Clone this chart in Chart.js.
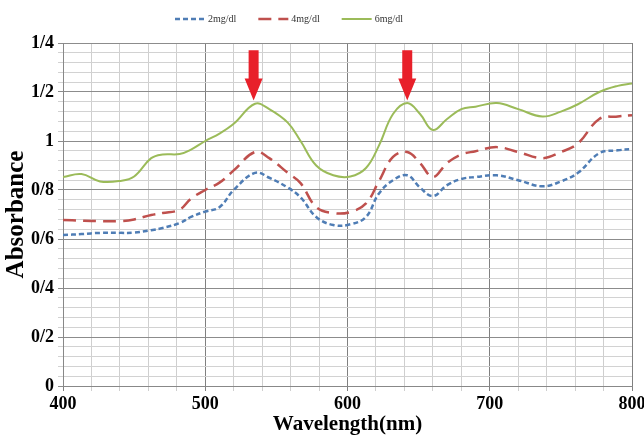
<!DOCTYPE html>
<html>
<head>
<meta charset="utf-8">
<script src="https://cdn.jsdelivr.net/npm/chart.js@4.4.0/dist/chart.umd.min.js"></script>
<style>
  html, body { margin: 0; padding: 0; background: #fff; }
</style>
</head>
<body>
<canvas id="absChart" width="644" height="437"></canvas>
<script>
const wavelengths = [400, 413, 426, 440, 450, 462, 470, 482, 490, 500, 510, 520, 535, 545, 558, 567, 578, 590, 602, 613, 622, 632, 642, 651, 660, 670, 680, 690, 705, 720, 737, 750, 762, 777, 790, 800];
const abs2 = [0.616, 0.62, 0.625, 0.625, 0.626, 0.636, 0.645, 0.665, 0.69, 0.712, 0.73, 0.8, 0.87, 0.85, 0.81, 0.77, 0.69, 0.657, 0.66, 0.69, 0.785, 0.84, 0.86, 0.81, 0.775, 0.82, 0.845, 0.853, 0.86, 0.84, 0.815, 0.835, 0.87, 0.95, 0.962, 0.967];
const abs4 = [0.678, 0.675, 0.673, 0.673, 0.68, 0.698, 0.706, 0.72, 0.765, 0.8, 0.83, 0.88, 0.955, 0.93, 0.87, 0.828, 0.73, 0.706, 0.71, 0.745, 0.835, 0.935, 0.955, 0.91, 0.853, 0.91, 0.945, 0.958, 0.975, 0.955, 0.93, 0.955, 0.99, 1.09, 1.1, 1.105];
const abs6 = [0.853, 0.865, 0.835, 0.837, 0.855, 0.93, 0.945, 0.947, 0.965, 1.0, 1.03, 1.07, 1.152, 1.13, 1.075, 1.0, 0.9, 0.86, 0.855, 0.89, 0.98, 1.11, 1.155, 1.11, 1.045, 1.09, 1.13, 1.14, 1.155, 1.13, 1.1, 1.12, 1.15, 1.2, 1.225, 1.235];
const seriesNames = ['2mg/dl', '4mg/dl', '6mg/dl'];
const yTickLabels = ['0', '0/2', '0/4', '0/6', '0/8', '1', '1/2', '1/4'];
const xTickLabels = ['400', '500', '600', '700', '800'];
const arrowWavelengths = [534, 642];

function toPoints(values) {
  return wavelengths.map((w, i) => ({ x: w, y: values[i] }));
}

// red arrows pointing at the two peaks
const peakArrows = {
  id: 'peakArrows',
  afterDatasetsDraw(chart) {
    const { ctx, scales: { x, y } } = chart;
    ctx.save();
    ctx.fillStyle = '#e8202a';
    arrowWavelengths.forEach(w => {
      const cx = x.getPixelForValue(w);
      const top = y.getPixelForValue(1.37);
      const tip = y.getPixelForValue(1.165);
      const headStart = tip - 22;
      ctx.beginPath();
      ctx.moveTo(cx - 5, top);
      ctx.lineTo(cx + 5, top);
      ctx.lineTo(cx + 5, headStart);
      ctx.lineTo(cx + 9, headStart);
      ctx.lineTo(cx, tip);
      ctx.lineTo(cx - 9, headStart);
      ctx.lineTo(cx - 5, headStart);
      ctx.closePath();
      ctx.fill();
    });
    ctx.restore();
  }
};

// legend row above the plot
const lineLegend = {
  id: 'lineLegend',
  afterDraw(chart) {
    const ctx = chart.ctx;
    ctx.save();
    ctx.font = '10px "Liberation Serif"';
    ctx.textBaseline = 'middle';
    let lx = 175;
    const ly = 19;
    chart.data.datasets.forEach(ds => {
      ctx.strokeStyle = ds.borderColor;
      ctx.lineWidth = ds.borderWidth;
      ctx.setLineDash(ds.borderDash || []);
      ctx.beginPath();
      ctx.moveTo(lx, ly);
      ctx.lineTo(lx + 30, ly);
      ctx.stroke();
      ctx.setLineDash([]);
      ctx.fillStyle = '#333';
      ctx.fillText(ds.label, lx + 33, ly);
      lx += 33 + ctx.measureText(ds.label).width + 22;
    });
    ctx.restore();
  }
};

const ctx = document.getElementById('absChart').getContext('2d');
const absChart = new Chart(ctx, {
  type: 'line',
  data: {
    datasets: [
      {
        label: seriesNames[0],
        data: toPoints(abs2),
        borderColor: '#4f7db5',
        borderWidth: 2.5,
        borderDash: [5, 3],
        pointRadius: 0,
        tension: 0.4
      },
      {
        label: seriesNames[1],
        data: toPoints(abs4),
        borderColor: '#bf504d',
        borderWidth: 2.5,
        borderDash: [13, 7],
        pointRadius: 0,
        tension: 0.4
      },
      {
        label: seriesNames[2],
        data: toPoints(abs6),
        borderColor: '#9bbb59',
        borderWidth: 2,
        pointRadius: 0,
        tension: 0.4
      }
    ]
  },
  options: {
    responsive: false,
    animation: false,
    layout: { padding: { top: 43, right: 12, left: 0, bottom: 0 } },
    plugins: {
      legend: { display: false },
      tooltip: { enabled: false }
    },
    scales: {
      x: {
        type: 'linear',
        min: 400,
        max: 800,
        afterFit: s => { s.height = 51; s.paddingRight = 12; s.paddingLeft = 0; },
        ticks: {
          stepSize: 20,
          autoSkip: false,
          maxRotation: 0,
          padding: 3,
          color: '#000',
          font: { family: 'Liberation Serif', size: 18, weight: 'bold' },
          callback: v => (v % 100 === 0 ? xTickLabels[(v - 400) / 100] : '')
        },
        grid: {
          color: c => (c.tick && c.tick.value % 100 === 0 ? '#808080' : '#cfcfcf'),
          tickLength: 5
        },
        border: { color: '#888' },
        title: {
          display: true,
          text: 'Wavelength(nm)',
          color: '#000',
          font: { family: 'Liberation Serif', size: 21, weight: 'bold' },
          padding: 0
        }
      },
      y: {
        min: 0,
        max: 1.4,
        afterFit: s => { s.width = 63; },
        ticks: {
          stepSize: 0.04,
          maxTicksLimit: 100,
          autoSkip: false,
          padding: 4,
          color: '#000',
          font: { family: 'Liberation Serif', size: 18, weight: 'bold' },
          callback: v => {
            const k = Math.round(v * 100);
            return k % 20 === 0 ? yTickLabels[k / 20] : '';
          }
        },
        grid: {
          color: c => (c.tick && Math.round(c.tick.value * 100) % 20 === 0 ? '#8c8c8c' : '#d2d2d2'),
          tickLength: 5
        },
        border: { color: '#888' },
        title: {
          display: true,
          text: 'Absorbance',
          color: '#000',
          font: { family: 'Liberation Serif', size: 25, weight: 'bold' },
          padding: { top: 2, bottom: 0 }
        }
      }
    }
  },
  plugins: [peakArrows, lineLegend]
});
</script>
</body>
</html>
